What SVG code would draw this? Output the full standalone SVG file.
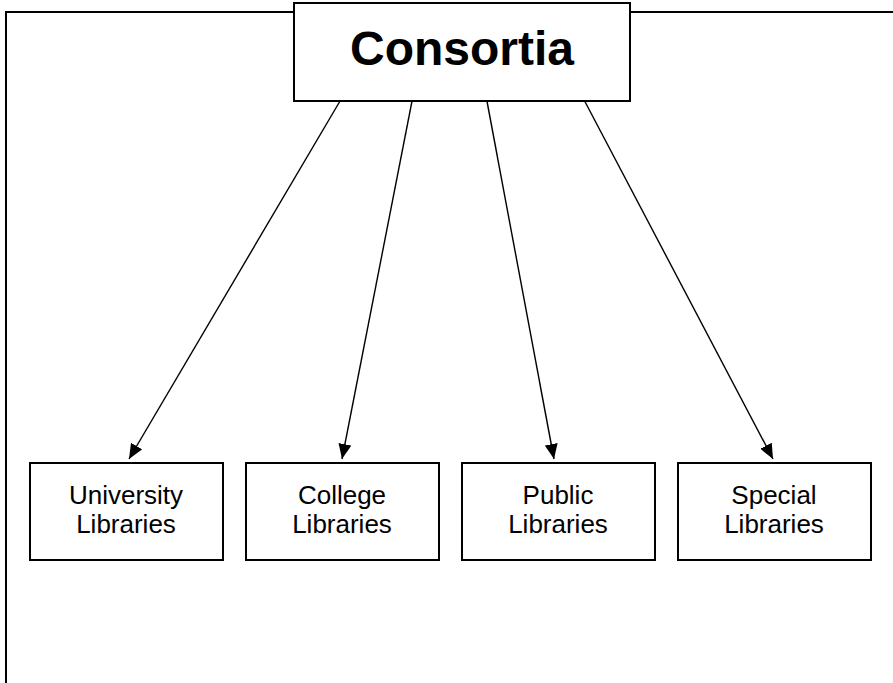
<svg xmlns="http://www.w3.org/2000/svg" width="893" height="683" viewBox="0 0 893 683">
<style>
.box{fill:#fff;stroke:#000;stroke-width:2}
.lbl{font-family:"Liberation Sans",Arial,sans-serif;font-size:26px;fill:#000;text-anchor:middle}
.title{font-family:"Liberation Sans",Arial,sans-serif;font-size:48px;font-weight:bold;fill:#000;text-anchor:middle}
.conn{stroke:#000;stroke-width:1.4;fill:none;marker-end:url(#ah)}
</style>
<defs>
<marker id="ah" markerWidth="15" markerHeight="13" refX="15" refY="6.5" orient="auto" markerUnits="userSpaceOnUse">
<path d="M0,0 L15,6.5 L0,13 Z" fill="#000"/>
</marker>
</defs>
<rect x="0" y="0" width="893" height="683" fill="#fff"/>
<rect id="frame" x="6" y="12" width="920" height="720" fill="none" stroke="#000" stroke-width="2"/>
<g id="connectors">
<line class="conn" x1="343" y1="96" x2="129" y2="459"/>
<line class="conn" x1="413" y1="96" x2="342" y2="459"/>
<line class="conn" x1="486" y1="96" x2="554" y2="459"/>
<line class="conn" x1="582" y1="96" x2="773" y2="459"/>
</g>
<g id="consortia">
<rect class="box" x="294" y="3" width="336" height="98"/>
<text class="title" x="462" y="65">Consortia</text>
</g>
<g id="university">
<rect class="box" x="30" y="463" width="193" height="97"/>
<text class="lbl" x="126" y="504">University</text>
<text class="lbl" x="126" y="533">Libraries</text>
</g>
<g id="college">
<rect class="box" x="246" y="463" width="193" height="97"/>
<text class="lbl" x="342" y="504">College</text>
<text class="lbl" x="342" y="533">Libraries</text>
</g>
<g id="public">
<rect class="box" x="462" y="463" width="193" height="97"/>
<text class="lbl" x="558" y="504">Public</text>
<text class="lbl" x="558" y="533">Libraries</text>
</g>
<g id="special">
<rect class="box" x="678" y="463" width="193" height="97"/>
<text class="lbl" x="774" y="504">Special</text>
<text class="lbl" x="774" y="533">Libraries</text>
</g>
</svg>
